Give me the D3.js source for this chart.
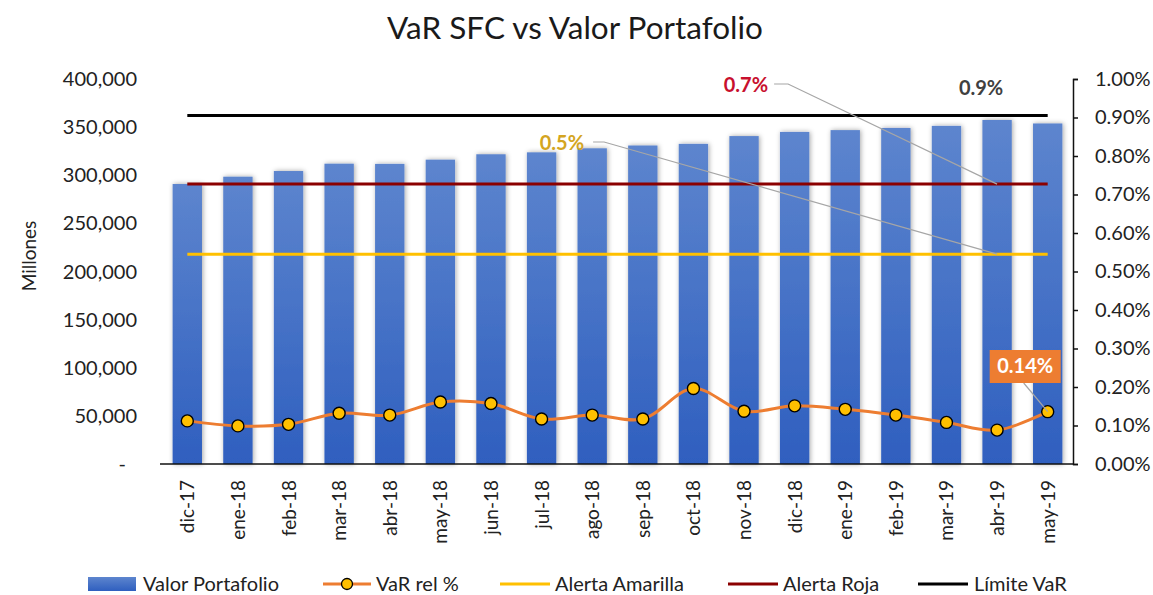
<!DOCTYPE html>
<html>
<head>
<meta charset="utf-8">
<script src="https://cdn.jsdelivr.net/npm/d3@7"></script>
<style>
  body { margin: 0; background: #fff; }
  svg text { font-family: Lato, "Open Sans", sans-serif; }
</style>
</head>
<body>
<svg id="chart" width="1153" height="595"></svg>
<script>
// months on the x axis
const months = ["dic-17","ene-18","feb-18","mar-18","abr-18","may-18","jun-18","jul-18","ago-18",
  "sep-18","oct-18","nov-18","dic-18","ene-19","feb-19","mar-19","abr-19","may-19"];
// portfolio value, millones
const valorPortafolio = [290900, 298500, 304400, 312000, 311800, 316200, 321800, 323800, 328000,
  330900, 332600, 340700, 345000, 346900, 349100, 351300, 357400, 353800];
// VaR relative, percent
const varRel = [0.112, 0.099, 0.103, 0.132, 0.127, 0.161, 0.157, 0.117, 0.127,
  0.117, 0.196, 0.137, 0.151, 0.142, 0.127, 0.108, 0.088, 0.136];
// flat limits, percent
const alertaAmarilla = 0.545;
const alertaRoja = 0.727;
const limiteVar = 0.905;
const leftTicks = [0, 50000, 100000, 150000, 200000, 250000, 300000, 350000, 400000];
const rightTicks = [0, 0.1, 0.2, 0.3, 0.4, 0.5, 0.6, 0.7, 0.8, 0.9, 1.0];

const svg = d3.select("#chart");
const plotL = 162, plotR = 1073, plotT = 79, plotB = 464;

const x = d3.scaleBand().domain(months).range([plotL, plotR]).paddingInner(0.42).paddingOuter(0.21);
const yL = d3.scaleLinear().domain([0, 400000]).range([plotB, plotT]);
const yR = d3.scaleLinear().domain([0, 1]).range([plotB, plotT]);
const cx = d => x(d) + x.bandwidth() / 2;

// defs: bar gradient + soft shadow
const defs = svg.append("defs");
const grad = defs.append("linearGradient").attr("id", "barGrad")
  .attr("x1", 0).attr("y1", 0).attr("x2", 0).attr("y2", 1);
grad.append("stop").attr("offset", "0%").attr("stop-color", "#5d85ce");
grad.append("stop").attr("offset", "100%").attr("stop-color", "#2f5fbf");
const shadow = defs.append("filter").attr("id", "shadow")
  .attr("x", "-40%").attr("y", "-5%").attr("width", "180%").attr("height", "110%");
shadow.append("feDropShadow").attr("dx", 1).attr("dy", 0).attr("stdDeviation", 2.5)
  .attr("flood-color", "#000").attr("flood-opacity", 0.35);

// title
svg.append("text").attr("x", 575).attr("y", 38.5).attr("text-anchor", "middle")
  .attr("font-size", 31.5).attr("fill", "#1a1a1a").text("VaR SFC vs Valor Portafolio");

// bars
svg.append("g").selectAll("rect").data(months).join("rect")
  .attr("x", d => x(d)).attr("width", x.bandwidth())
  .attr("y", (d, i) => yL(valorPortafolio[i]))
  .attr("height", (d, i) => plotB - yL(valorPortafolio[i]))
  .attr("fill", "url(#barGrad)").attr("filter", "url(#shadow)");

// limit lines across first..last month centers
const hline = (v, color) => svg.append("line")
  .attr("x1", cx(months[0])).attr("x2", cx(months[months.length - 1]))
  .attr("y1", yR(v)).attr("y2", yR(v))
  .attr("stroke", color).attr("stroke-width", 3);
hline(alertaAmarilla, "#ffc000");
hline(alertaRoja, "#8b0000");
hline(limiteVar, "#000");

// left axis (labels only)
const gl = svg.append("g").attr("font-size", 20);
gl.selectAll("text").data(leftTicks).join("text")
  .attr("x", d => d === 0 ? 126 : 137).attr("y", d => yL(d)).attr("dy", "0.35em")
  .attr("text-anchor", "end").attr("fill", "#222")
  .text(d => d === 0 ? "-" : d3.format(",")(d));
svg.append("text").attr("transform", "translate(36,256) rotate(-90)")
  .attr("text-anchor", "middle").attr("font-size", 19).attr("fill", "#222").text("Millones");

// right axis
const axR = svg.append("g").attr("transform", `translate(${plotR},0)`)
  .call(d3.axisRight(yR).tickValues(rightTicks).tickSize(5).tickPadding(17)
    .tickFormat(d => d.toFixed(2) + "%"));
axR.select(".domain").attr("stroke", "#111").attr("stroke-width", 1.5);
axR.selectAll(".tick line").attr("stroke", "#111").attr("stroke-width", 1.5);
axR.selectAll("text").attr("font-size", 20).attr("fill", "#222")
  .style("font-family", "Lato, sans-serif");

// x axis line + rotated labels
svg.append("line").attr("x1", plotL - 2).attr("x2", plotR).attr("y1", plotB).attr("y2", plotB)
  .attr("stroke", "#111").attr("stroke-width", 1.5);
svg.append("g").selectAll("text").data(months).join("text")
  .attr("transform", d => `translate(${cx(d) + 7},480) rotate(-90)`)
  .attr("text-anchor", "end").attr("font-size", 19).attr("fill", "#222").text(d => d);

// VaR rel line
const line = d3.line().x((d, i) => cx(months[i])).y(d => yR(d)).curve(d3.curveCatmullRom.alpha(0.5));
svg.append("path").datum(varRel).attr("d", line)
  .attr("fill", "none").attr("stroke", "#ed7d31").attr("stroke-width", 3);
svg.append("g").selectAll("circle").data(varRel).join("circle")
  .attr("cx", (d, i) => cx(months[i])).attr("cy", d => yR(d)).attr("r", 6)
  .attr("fill", "#ffc000").attr("stroke", "#000").attr("stroke-width", 1.4);

// data labels attached to abr-19 / may-19
const ax = cx("abr-19");
const lead = "#a6a6a6";
// 0.5% label
svg.append("path").attr("d", `M${ax - 404},142 L${ax - 393},142 L${ax},${yR(alertaAmarilla)}`)
  .attr("fill", "none").attr("stroke", lead).attr("stroke-width", 1.2);
svg.append("text").attr("x", ax - 413).attr("y", 150).attr("text-anchor", "end")
  .attr("font-size", 20).attr("font-weight", "bold").attr("fill", "#d4a521")
  .text(d3.format(".1f")(alertaAmarilla) + "%");
// 0.7% label
svg.append("path").attr("d", `M${ax - 223},84 L${ax - 209},84 L${ax},${yR(alertaRoja)}`)
  .attr("fill", "none").attr("stroke", lead).attr("stroke-width", 1.2);
svg.append("text").attr("x", ax - 229).attr("y", 92).attr("text-anchor", "end")
  .attr("font-size", 20).attr("font-weight", "bold").attr("fill", "#c8102e")
  .text(d3.format(".1f")(alertaRoja) + "%");
// 0.9% label
svg.append("text").attr("x", ax - 16).attr("y", 95).attr("text-anchor", "middle")
  .attr("font-size", 20).attr("font-weight", "bold").attr("fill", "#404040")
  .text(d3.format(".1f")(limiteVar) + "%");
// 0.14% boxed label
const mx = cx("may-19"), my = yR(varRel[varRel.length - 1]);
svg.append("line").attr("x1", mx - 24).attr("y1", 383).attr("x2", mx).attr("y2", my)
  .attr("stroke", lead).attr("stroke-width", 1.2);
svg.append("rect").attr("x", mx - 58).attr("y", 350).attr("width", 71).attr("height", 33)
  .attr("fill", "#ed7d31");
svg.append("text").attr("x", mx - 22.5).attr("y", 373).attr("text-anchor", "middle")
  .attr("font-size", 20).attr("font-weight", "bold").attr("fill", "#fff")
  .text("0.14%");

// legend
const leg = svg.append("g").attr("font-size", 20);
const items = [
  { label: "Valor Portafolio", type: "bar", x: 88, tx: 143 },
  { label: "VaR rel %", type: "marker", x: 323, tx: 376 },
  { label: "Alerta Amarilla", type: "line", color: "#ffc000", x: 500, tx: 555 },
  { label: "Alerta Roja", type: "line", color: "#8b0000", x: 728, tx: 783 },
  { label: "Límite VaR", type: "line", color: "#000", x: 918, tx: 974 }
];
const ly = 584;
items.forEach(it => {
  if (it.type === "bar") {
    leg.append("rect").attr("x", it.x).attr("y", ly - 7).attr("width", 48).attr("height", 14)
      .attr("fill", "url(#barGrad)");
  } else if (it.type === "marker") {
    leg.append("line").attr("x1", it.x).attr("x2", it.x + 48).attr("y1", ly).attr("y2", ly)
      .attr("stroke", "#ed7d31").attr("stroke-width", 3);
    leg.append("circle").attr("cx", it.x + 24).attr("cy", ly).attr("r", 5.5)
      .attr("fill", "#ffc000").attr("stroke", "#000").attr("stroke-width", 1.3);
  } else {
    leg.append("line").attr("x1", it.x).attr("x2", it.x + 50).attr("y1", ly).attr("y2", ly)
      .attr("stroke", it.color).attr("stroke-width", 3);
  }
  leg.append("text").attr("x", it.tx).attr("y", ly).attr("dy", "0.35em").attr("fill", "#222").text(it.label);
});
</script>
</body>
</html>
